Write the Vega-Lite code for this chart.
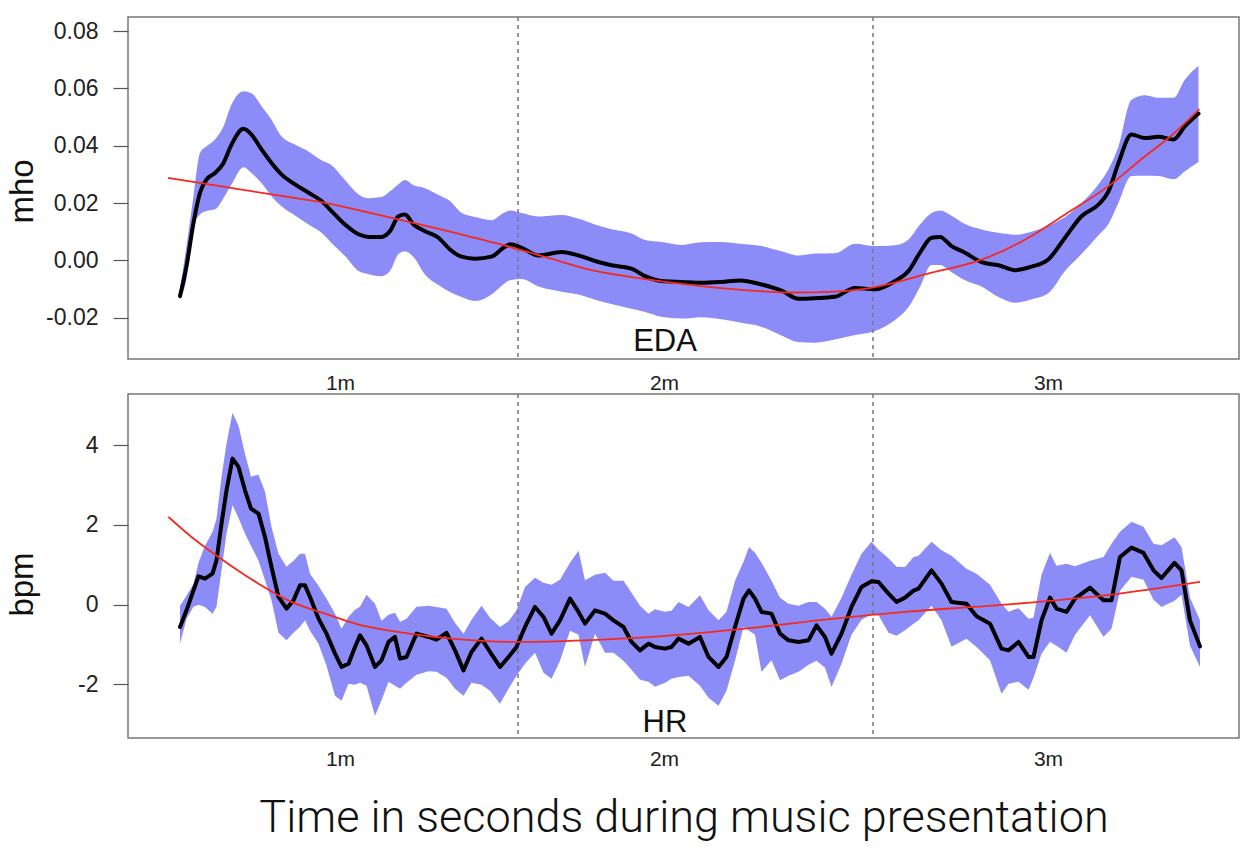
{
  "$schema": "https://vega.github.io/schema/vega-lite/v6.json",
  "background": "white",
  "padding": {"left": 5, "top": 15, "right": 17, "bottom": 6},
  "spacing": -6,
  "config": {
    "view": {"stroke": "#777", "strokeWidth": 1.5},
    "font": "Liberation Sans",
    "axis": {"grid": false, "labelFont": "Liberation Sans", "titleFont": "Liberation Sans", "labelColor": "#222", "titleColor": "#111", "tickColor": "#555", "domain": false}
  },
  "datasets": {
    "eda": [
      {"t": 2.4, "m": -0.0124, "lo": -0.0138, "hi": -0.0100},
      {"t": 3.7, "m": -0.0020, "lo": -0.0065, "hi": 0.0050},
      {"t": 5.1, "m": 0.0131, "lo": 0.0120, "hi": 0.0224},
      {"t": 6.4, "m": 0.0236, "lo": 0.0160, "hi": 0.0375},
      {"t": 7.7, "m": 0.0282, "lo": 0.0172, "hi": 0.0398},
      {"t": 9.4, "m": 0.0305, "lo": 0.0178, "hi": 0.0422},
      {"t": 11.1, "m": 0.0340, "lo": 0.0218, "hi": 0.0468},
      {"t": 12.7, "m": 0.0404, "lo": 0.0265, "hi": 0.0544},
      {"t": 15.1, "m": 0.0459, "lo": 0.0325, "hi": 0.0590},
      {"t": 16.7, "m": 0.0439, "lo": 0.0305, "hi": 0.0583},
      {"t": 18.7, "m": 0.0387, "lo": 0.0270, "hi": 0.0538},
      {"t": 20.7, "m": 0.0340, "lo": 0.0224, "hi": 0.0491},
      {"t": 22.7, "m": 0.0300, "lo": 0.0189, "hi": 0.0433},
      {"t": 25.4, "m": 0.0265, "lo": 0.0157, "hi": 0.0404},
      {"t": 28.1, "m": 0.0236, "lo": 0.0125, "hi": 0.0380},
      {"t": 30.7, "m": 0.0207, "lo": 0.0096, "hi": 0.0349},
      {"t": 32.7, "m": 0.0172, "lo": 0.0061, "hi": 0.0332},
      {"t": 35.4, "m": 0.0125, "lo": 0.0015, "hi": 0.0280},
      {"t": 38.1, "m": 0.0091, "lo": -0.0037, "hi": 0.0230},
      {"t": 40.1, "m": 0.0082, "lo": -0.0048, "hi": 0.0217},
      {"t": 42.7, "m": 0.0082, "lo": -0.0055, "hi": 0.0221},
      {"t": 44.4, "m": 0.0102, "lo": -0.0037, "hi": 0.0241},
      {"t": 46.1, "m": 0.0154, "lo": 0.0022, "hi": 0.0266},
      {"t": 47.4, "m": 0.0160, "lo": 0.0032, "hi": 0.0280},
      {"t": 49.1, "m": 0.0125, "lo": 0.0012, "hi": 0.0262},
      {"t": 51.4, "m": 0.0102, "lo": -0.0049, "hi": 0.0252},
      {"t": 54.1, "m": 0.0079, "lo": -0.0086, "hi": 0.0228},
      {"t": 56.4, "m": 0.0038, "lo": -0.0110, "hi": 0.0207},
      {"t": 58.7, "m": 0.0013, "lo": -0.0128, "hi": 0.0166},
      {"t": 61.4, "m": 0.0006, "lo": -0.0142, "hi": 0.0151},
      {"t": 64.7, "m": 0.0013, "lo": -0.0119, "hi": 0.0140},
      {"t": 67.1, "m": 0.0044, "lo": -0.0083, "hi": 0.0165},
      {"t": 68.4, "m": 0.0056, "lo": -0.0069, "hi": 0.0174},
      {"t": 70.7, "m": 0.0044, "lo": -0.0065, "hi": 0.0165},
      {"t": 74.1, "m": 0.0017, "lo": -0.0091, "hi": 0.0153},
      {"t": 78.7, "m": 0.0029, "lo": -0.0109, "hi": 0.0158},
      {"t": 82.1, "m": 0.0017, "lo": -0.0119, "hi": 0.0145},
      {"t": 85.4, "m": -0.0002, "lo": -0.0137, "hi": 0.0125},
      {"t": 88.7, "m": -0.0017, "lo": -0.0152, "hi": 0.0109},
      {"t": 92.7, "m": -0.0029, "lo": -0.0169, "hi": 0.0094},
      {"t": 95.4, "m": -0.0055, "lo": -0.0180, "hi": 0.0071},
      {"t": 98.7, "m": -0.0072, "lo": -0.0197, "hi": 0.0064},
      {"t": 102.7, "m": -0.0075, "lo": -0.0203, "hi": 0.0054},
      {"t": 106.7, "m": -0.0078, "lo": -0.0198, "hi": 0.0063},
      {"t": 110.7, "m": -0.0075, "lo": -0.0205, "hi": 0.0064},
      {"t": 114.4, "m": -0.0070, "lo": -0.0217, "hi": 0.0058},
      {"t": 118.7, "m": -0.0084, "lo": -0.0232, "hi": 0.0050},
      {"t": 122.7, "m": -0.0105, "lo": -0.0262, "hi": 0.0032},
      {"t": 126.1, "m": -0.0134, "lo": -0.0285, "hi": 0.0017},
      {"t": 129.4, "m": -0.0132, "lo": -0.0287, "hi": 0.0024},
      {"t": 133.4, "m": -0.0127, "lo": -0.0276, "hi": 0.0025},
      {"t": 137.4, "m": -0.0096, "lo": -0.0260, "hi": 0.0058},
      {"t": 141.4, "m": -0.0101, "lo": -0.0246, "hi": 0.0050},
      {"t": 145.4, "m": -0.0072, "lo": -0.0208, "hi": 0.0053},
      {"t": 148.1, "m": -0.0037, "lo": -0.0163, "hi": 0.0073},
      {"t": 150.4, "m": 0.0027, "lo": -0.0093, "hi": 0.0125},
      {"t": 152.7, "m": 0.0079, "lo": -0.0016, "hi": 0.0165},
      {"t": 154.4, "m": 0.0082, "lo": -0.0016, "hi": 0.0174},
      {"t": 156.7, "m": 0.0050, "lo": -0.0041, "hi": 0.0156},
      {"t": 159.4, "m": 0.0027, "lo": -0.0069, "hi": 0.0127},
      {"t": 162.7, "m": -0.0006, "lo": -0.0091, "hi": 0.0108},
      {"t": 166.1, "m": -0.0017, "lo": -0.0128, "hi": 0.0096},
      {"t": 169.4, "m": -0.0034, "lo": -0.0148, "hi": 0.0089},
      {"t": 172.7, "m": -0.0022, "lo": -0.0136, "hi": 0.0100},
      {"t": 176.1, "m": 0.0004, "lo": -0.0114, "hi": 0.0121},
      {"t": 179.4, "m": 0.0079, "lo": -0.0037, "hi": 0.0151},
      {"t": 182.7, "m": 0.0154, "lo": 0.0022, "hi": 0.0200},
      {"t": 186.1, "m": 0.0195, "lo": 0.0088, "hi": 0.0266},
      {"t": 188.1, "m": 0.0241, "lo": 0.0127, "hi": 0.0318},
      {"t": 190.1, "m": 0.0340, "lo": 0.0201, "hi": 0.0398},
      {"t": 192.7, "m": 0.0439, "lo": 0.0294, "hi": 0.0560},
      {"t": 195.4, "m": 0.0427, "lo": 0.0295, "hi": 0.0576},
      {"t": 198.1, "m": 0.0431, "lo": 0.0294, "hi": 0.0567},
      {"t": 201.1, "m": 0.0422, "lo": 0.0283, "hi": 0.0567},
      {"t": 203.4, "m": 0.0468, "lo": 0.0311, "hi": 0.0631},
      {"t": 206.1, "m": 0.0512, "lo": 0.0343, "hi": 0.0679}
    ],
    "edaFit": [
      {"t": 0, "v": 0.0288}, {"t": 10.4, "v": 0.0259}, {"t": 20.4, "v": 0.0231}, {"t": 31.4, "v": 0.0201},
      {"t": 42.4, "v": 0.0158}, {"t": 54.4, "v": 0.0109}, {"t": 65.4, "v": 0.0061}, {"t": 75.4, "v": 0.0012},
      {"t": 85.4, "v": -0.0037}, {"t": 95.4, "v": -0.0065}, {"t": 105.4, "v": -0.0087}, {"t": 115.4, "v": -0.0104},
      {"t": 125.4, "v": -0.0112}, {"t": 133.4, "v": -0.0109}, {"t": 141.4, "v": -0.0093}, {"t": 152.7, "v": -0.0043},
      {"t": 162, "v": -0.0002}, {"t": 172.7, "v": 0.0085}, {"t": 179.4, "v": 0.0160}, {"t": 188.1, "v": 0.0259},
      {"t": 195.4, "v": 0.0363}, {"t": 200.1, "v": 0.0427}, {"t": 206.3, "v": 0.0528}
    ],
    "hr": [
      {"t": 2.4, "m": -0.560, "lo": -0.979, "hi": -0.025},
      {"t": 3.7, "m": -0.143, "lo": -0.351, "hi": 0.226},
      {"t": 5.1, "m": 0.359, "lo": -0.050, "hi": 0.527},
      {"t": 6.1, "m": 0.710, "lo": 0.000, "hi": 1.054},
      {"t": 7.4, "m": 0.653, "lo": -0.058, "hi": 1.481},
      {"t": 8.9, "m": 0.778, "lo": -0.226, "hi": 1.832},
      {"t": 9.7, "m": 1.112, "lo": -0.050, "hi": 2.159},
      {"t": 10.7, "m": 2.033, "lo": 0.861, "hi": 3.205},
      {"t": 11.7, "m": 2.869, "lo": 1.782, "hi": 4.041},
      {"t": 12.9, "m": 3.665, "lo": 2.492, "hi": 4.819},
      {"t": 14.1, "m": 3.456, "lo": 2.184, "hi": 4.493},
      {"t": 15.4, "m": 2.869, "lo": 1.782, "hi": 3.790},
      {"t": 16.6, "m": 2.410, "lo": 1.481, "hi": 3.213},
      {"t": 18.1, "m": 2.284, "lo": 1.104, "hi": 3.263},
      {"t": 19.4, "m": 1.699, "lo": 0.610, "hi": 2.836},
      {"t": 20.7, "m": 0.946, "lo": 0.108, "hi": 1.950},
      {"t": 22.1, "m": 0.193, "lo": -0.703, "hi": 1.280},
      {"t": 23.7, "m": -0.100, "lo": -0.896, "hi": 0.954},
      {"t": 25.1, "m": 0.108, "lo": -0.703, "hi": 1.104},
      {"t": 26.4, "m": 0.484, "lo": -0.552, "hi": 1.280},
      {"t": 27.4, "m": 0.484, "lo": -0.394, "hi": 1.280},
      {"t": 28.4, "m": 0.193, "lo": -0.653, "hi": 0.778},
      {"t": 30.1, "m": -0.351, "lo": -0.979, "hi": 0.477},
      {"t": 31.7, "m": -0.728, "lo": -1.531, "hi": 0.151},
      {"t": 33.4, "m": -1.230, "lo": -2.284, "hi": -0.226},
      {"t": 34.7, "m": -1.564, "lo": -2.410, "hi": -0.602},
      {"t": 36.1, "m": -1.481, "lo": -1.983, "hi": -0.301},
      {"t": 37.4, "m": -1.062, "lo": -2.008, "hi": -0.126},
      {"t": 38.4, "m": -0.771, "lo": -1.958, "hi": -0.050},
      {"t": 39.7, "m": -1.022, "lo": -2.033, "hi": 0.251},
      {"t": 41.4, "m": -1.564, "lo": -2.786, "hi": 0.025},
      {"t": 42.7, "m": -1.398, "lo": -2.402, "hi": -0.402},
      {"t": 44.1, "m": -0.936, "lo": -1.933, "hi": -0.251},
      {"t": 45.4, "m": -0.811, "lo": -2.033, "hi": -0.201},
      {"t": 46.4, "m": -1.355, "lo": -2.108, "hi": -0.427},
      {"t": 47.7, "m": -1.313, "lo": -1.958, "hi": -0.351},
      {"t": 49.7, "m": -0.728, "lo": -1.757, "hi": -0.050},
      {"t": 52.1, "m": -0.811, "lo": -1.669, "hi": -0.025},
      {"t": 53.7, "m": -0.879, "lo": -1.682, "hi": -0.058},
      {"t": 55.7, "m": -0.710, "lo": -1.832, "hi": -0.100},
      {"t": 57.4, "m": -1.147, "lo": -2.108, "hi": -0.452},
      {"t": 59.1, "m": -1.649, "lo": -2.284, "hi": -0.728},
      {"t": 60.7, "m": -1.187, "lo": -1.958, "hi": -0.377},
      {"t": 62.7, "m": -0.853, "lo": -2.008, "hi": -0.025},
      {"t": 64.4, "m": -1.187, "lo": -2.159, "hi": -0.326},
      {"t": 66.4, "m": -1.564, "lo": -2.485, "hi": -0.560},
      {"t": 68.1, "m": -1.313, "lo": -2.108, "hi": -0.414},
      {"t": 69.7, "m": -1.062, "lo": -1.782, "hi": -0.143},
      {"t": 71.4, "m": -0.560, "lo": -1.481, "hi": 0.444},
      {"t": 73.4, "m": -0.058, "lo": -1.205, "hi": 0.678},
      {"t": 75.1, "m": -0.309, "lo": -1.707, "hi": 0.552},
      {"t": 76.7, "m": -0.728, "lo": -1.857, "hi": 0.502},
      {"t": 78.4, "m": -0.394, "lo": -1.406, "hi": 0.628},
      {"t": 80.4, "m": 0.151, "lo": -0.653, "hi": 1.054},
      {"t": 82.1, "m": -0.183, "lo": -0.753, "hi": 1.355},
      {"t": 83.4, "m": -0.477, "lo": -1.564, "hi": 0.610},
      {"t": 85.4, "m": -0.143, "lo": -0.728, "hi": 0.753},
      {"t": 87.4, "m": -0.226, "lo": -1.205, "hi": 0.803},
      {"t": 89.1, "m": -0.394, "lo": -1.205, "hi": 0.602},
      {"t": 91.1, "m": -0.560, "lo": -1.406, "hi": 0.602},
      {"t": 92.7, "m": -0.936, "lo": -1.632, "hi": 0.301},
      {"t": 94.4, "m": -1.147, "lo": -1.883, "hi": -0.025},
      {"t": 96.1, "m": -0.979, "lo": -1.933, "hi": -0.226},
      {"t": 97.4, "m": -1.062, "lo": -2.058, "hi": -0.113},
      {"t": 99.4, "m": -1.104, "lo": -1.958, "hi": -0.176},
      {"t": 100.7, "m": -1.062, "lo": -1.857, "hi": -0.151},
      {"t": 102.1, "m": -0.853, "lo": -1.815, "hi": 0.068},
      {"t": 104.1, "m": -0.979, "lo": -1.782, "hi": -0.058},
      {"t": 106.4, "m": -0.811, "lo": -2.033, "hi": 0.233},
      {"t": 108.1, "m": -1.313, "lo": -2.334, "hi": -0.143},
      {"t": 110.1, "m": -1.564, "lo": -2.535, "hi": -0.394},
      {"t": 111.7, "m": -1.313, "lo": -2.159, "hi": -0.176},
      {"t": 113.4, "m": -0.560, "lo": -1.406, "hi": 0.602},
      {"t": 115.1, "m": 0.151, "lo": -0.560, "hi": 1.079},
      {"t": 116.2, "m": 0.359, "lo": -0.653, "hi": 1.448},
      {"t": 117.4, "m": 0.151, "lo": -0.753, "hi": 1.305},
      {"t": 118.7, "m": -0.183, "lo": -1.689, "hi": 1.054},
      {"t": 120.7, "m": -0.226, "lo": -1.398, "hi": 0.602},
      {"t": 122.4, "m": -0.728, "lo": -1.900, "hi": 0.176},
      {"t": 124.1, "m": -0.896, "lo": -1.782, "hi": 0.025},
      {"t": 126.1, "m": -0.936, "lo": -1.682, "hi": -0.025},
      {"t": 128.1, "m": -0.896, "lo": -1.506, "hi": 0.068},
      {"t": 129.7, "m": -0.520, "lo": -1.406, "hi": 0.068},
      {"t": 131.4, "m": -0.811, "lo": -1.581, "hi": -0.100},
      {"t": 132.7, "m": -1.230, "lo": -2.066, "hi": -0.301},
      {"t": 134.7, "m": -0.728, "lo": -1.481, "hi": 0.176},
      {"t": 136.7, "m": -0.058, "lo": -0.753, "hi": 0.753},
      {"t": 138.7, "m": 0.444, "lo": -0.377, "hi": 1.280},
      {"t": 140.7, "m": 0.585, "lo": -0.238, "hi": 1.581},
      {"t": 142.1, "m": 0.570, "lo": -0.269, "hi": 1.381},
      {"t": 144.1, "m": 0.276, "lo": -0.703, "hi": 1.167},
      {"t": 145.7, "m": 0.068, "lo": -0.778, "hi": 0.954},
      {"t": 147.4, "m": 0.176, "lo": -0.645, "hi": 0.946},
      {"t": 149.1, "m": 0.351, "lo": -0.477, "hi": 1.197},
      {"t": 150.1, "m": 0.402, "lo": -0.394, "hi": 1.230},
      {"t": 152.7, "m": 0.861, "lo": -0.025, "hi": 1.581},
      {"t": 154.7, "m": 0.527, "lo": -0.394, "hi": 1.363},
      {"t": 156.7, "m": 0.068, "lo": -1.054, "hi": 1.230},
      {"t": 159.7, "m": 0.025, "lo": -0.853, "hi": 0.904},
      {"t": 161.7, "m": -0.294, "lo": -1.062, "hi": 0.778},
      {"t": 164.4, "m": -0.477, "lo": -1.398, "hi": 0.502},
      {"t": 166.7, "m": -1.104, "lo": -2.234, "hi": 0.025},
      {"t": 168.1, "m": -1.147, "lo": -1.983, "hi": -0.176},
      {"t": 170.1, "m": -0.936, "lo": -1.933, "hi": -0.088},
      {"t": 172.1, "m": -1.313, "lo": -2.134, "hi": -0.351},
      {"t": 173.1, "m": -1.313, "lo": -1.832, "hi": -0.326},
      {"t": 174.7, "m": -0.394, "lo": -1.230, "hi": 0.753},
      {"t": 176.4, "m": 0.176, "lo": -0.929, "hi": 1.298},
      {"t": 177.7, "m": -0.100, "lo": -1.029, "hi": 0.979},
      {"t": 179.7, "m": -0.183, "lo": -1.205, "hi": 1.029},
      {"t": 181.4, "m": 0.151, "lo": -0.753, "hi": 0.966},
      {"t": 184.4, "m": 0.427, "lo": -0.264, "hi": 1.104},
      {"t": 187.1, "m": 0.108, "lo": -0.803, "hi": 1.197},
      {"t": 188.7, "m": 0.108, "lo": -0.602, "hi": 1.531},
      {"t": 190.4, "m": 1.197, "lo": 0.351, "hi": 1.832},
      {"t": 192.7, "m": 1.431, "lo": 0.703, "hi": 2.083},
      {"t": 195.1, "m": 1.298, "lo": 0.628, "hi": 1.958},
      {"t": 197.1, "m": 0.861, "lo": 0.126, "hi": 1.531},
      {"t": 198.7, "m": 0.670, "lo": -0.058, "hi": 1.488},
      {"t": 201.3, "m": 1.047, "lo": 0.100, "hi": 1.694},
      {"t": 202.7, "m": 0.861, "lo": 0.251, "hi": 1.448},
      {"t": 204.4, "m": -0.394, "lo": -1.029, "hi": 0.176},
      {"t": 206.4, "m": -1.047, "lo": -1.564, "hi": -0.394}
    ],
    "hrFit": [
      {"t": 0.1, "v": 2.201}, {"t": 4.7, "v": 1.699}, {"t": 10.1, "v": 1.197}, {"t": 18.1, "v": 0.527},
      {"t": 24.7, "v": 0.068}, {"t": 31.4, "v": -0.226}, {"t": 38.1, "v": -0.500}, {"t": 44.7, "v": -0.660},
      {"t": 56.7, "v": -0.853}, {"t": 70.1, "v": -0.936}, {"t": 83.4, "v": -0.896}, {"t": 96.7, "v": -0.811},
      {"t": 113.4, "v": -0.628}, {"t": 131.4, "v": -0.377}, {"t": 148, "v": -0.176}, {"t": 167.4, "v": 0.000},
      {"t": 187.4, "v": 0.233}, {"t": 206.4, "v": 0.570}
    ],
    "sections": [{"t": 70}, {"t": 141}],
    "edaLabel": [{"t": 99.4, "v": -0.0316, "label": "EDA"}],
    "hrLabel": [{"t": 99.4, "v": -3.19, "label": "HR"}]
  },
  "vconcat": [
    {
      "width": 1111,
      "height": 342,
      "encoding": {
        "x": {"field": "t", "type": "quantitative", "scale": {"domain": [-8, 214.2], "nice": false, "zero": false},
          "axis": {"values": [34.4, 99.2, 176], "labelExpr": "datum.value < 60 ? '1m' : datum.value < 150 ? '2m' : '3m'", "ticks": false, "tickSize": 0, "labelPadding": 24, "labelBaseline": "middle", "labelFontSize": 21, "title": null, "labelFlush": false}}
      },
      "layer": [
        {
          "data": {"name": "eda"},
          "mark": {"type": "area", "color": "#8c8cf8", "opacity": 1, "interpolate": "monotone"},
          "encoding": {
            "y": {"field": "lo", "type": "quantitative", "scale": {"domain": [-0.0344, 0.0849], "nice": false, "zero": false},
              "axis": {"values": [-0.02, 0, 0.02, 0.04, 0.06, 0.08], "labelExpr": "datum.value < -0.0001 ? '-' + format(-datum.value, '.2f') : format(datum.value, '.2f')", "tickSize": 15, "tickWidth": 1.2, "labelPadding": 15, "labelFontSize": 23, "title": "mho", "titleFontSize": 33, "titleFontWeight": "normal", "titleX": -96, "titleY": 174, "titleBaseline": "alphabetic", "titleAngle": -90}},
            "y2": {"field": "hi"}
          }
        },
        {
          "data": {"name": "sections"},
          "mark": {"type": "rule", "color": "#777", "strokeDash": [4, 4], "strokeWidth": 1.5},
          "encoding": {}
        },
        {
          "data": {"name": "eda"},
          "mark": {"type": "line", "color": "black", "strokeWidth": 4, "strokeJoin": "round", "strokeCap": "round", "interpolate": "monotone"},
          "encoding": {"y": {"field": "m", "type": "quantitative"}}
        },
        {
          "data": {"name": "edaFit"},
          "mark": {"type": "line", "color": "#f42a1e", "strokeWidth": 1.8, "interpolate": "monotone"},
          "encoding": {"y": {"field": "v", "type": "quantitative"}}
        },
        {
          "data": {"name": "edaLabel"},
          "mark": {"type": "text", "fontSize": 31, "align": "center", "baseline": "alphabetic", "color": "#111"},
          "encoding": {"y": {"field": "v", "type": "quantitative"}, "text": {"field": "label"}}
        }
      ]
    },
    {
      "width": 1111,
      "height": 344,
      "encoding": {
        "x": {"field": "t", "type": "quantitative", "scale": {"domain": [-8, 214.2], "nice": false, "zero": false},
          "axis": {"values": [34.4, 99.2, 176], "labelExpr": "datum.value < 60 ? '1m' : datum.value < 150 ? '2m' : '3m'", "ticks": false, "tickSize": 0, "labelPadding": 21, "labelBaseline": "middle", "labelFontSize": 21, "labelFlush": false,
            "title": "Time in seconds during music presentation", "titleFontSize": 45, "titleFont": "Roboto", "titleFontWeight": 300, "titleY": 93, "titleBaseline": "alphabetic"}}
      },
      "layer": [
        {
          "data": {"name": "hr"},
          "mark": {"type": "area", "color": "#8c8cf8", "opacity": 1},
          "encoding": {
            "y": {"field": "lo", "type": "quantitative", "scale": {"domain": [-3.347, 5.287], "nice": false, "zero": false},
              "axis": {"values": [-2, 0, 2, 4], "labelExpr": "toString(datum.value)", "tickSize": 15, "tickWidth": 1.2, "labelPadding": 15, "labelFontSize": 23, "title": "bpm", "titleFontSize": 33, "titleFontWeight": "normal", "titleX": -96, "titleY": 190, "titleBaseline": "alphabetic", "titleAngle": -90}},
            "y2": {"field": "hi"}
          }
        },
        {
          "data": {"name": "sections"},
          "mark": {"type": "rule", "color": "#777", "strokeDash": [4, 4], "strokeWidth": 1.5},
          "encoding": {}
        },
        {
          "data": {"name": "hr"},
          "mark": {"type": "line", "color": "black", "strokeWidth": 4, "strokeJoin": "round", "strokeCap": "round"},
          "encoding": {"y": {"field": "m", "type": "quantitative"}}
        },
        {
          "data": {"name": "hrFit"},
          "mark": {"type": "line", "color": "#f42a1e", "strokeWidth": 1.8, "interpolate": "monotone"},
          "encoding": {"y": {"field": "v", "type": "quantitative"}}
        },
        {
          "data": {"name": "hrLabel"},
          "mark": {"type": "text", "fontSize": 31, "align": "center", "baseline": "alphabetic", "color": "#111"},
          "encoding": {"y": {"field": "v", "type": "quantitative"}, "text": {"field": "label"}}
        }
      ]
    }
  ]
}
